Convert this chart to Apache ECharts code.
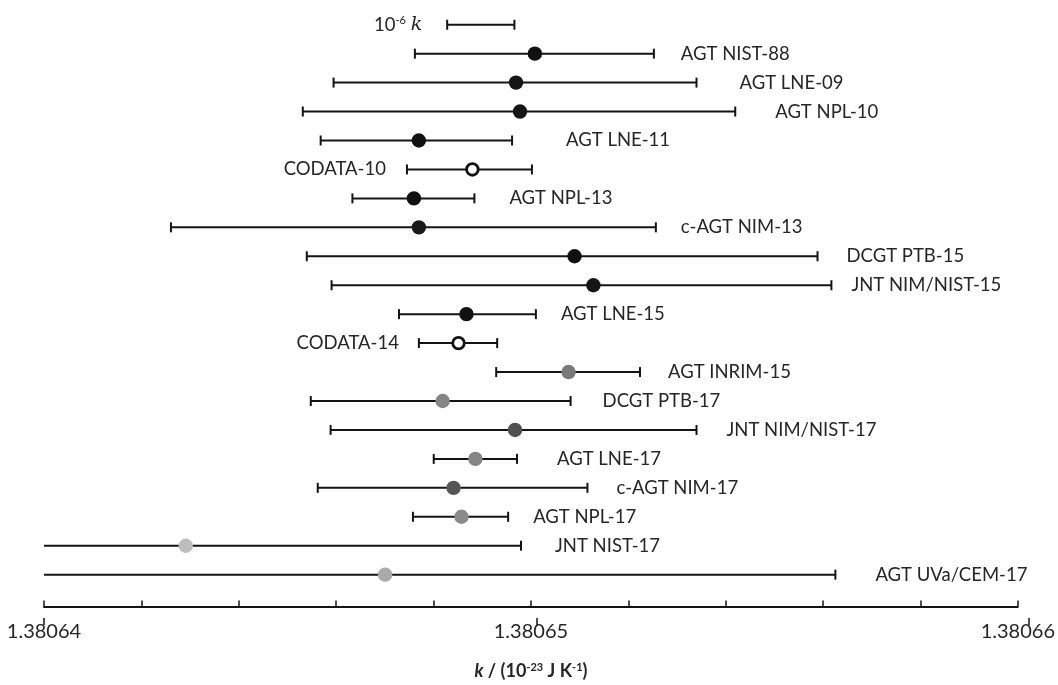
<!DOCTYPE html>
<html>
<head>
<meta charset="utf-8">
<script src="https://cdn.jsdelivr.net/npm/echarts@6/dist/echarts.min.js"></script>
<style>
html,body{margin:0;padding:0;background:#fff;}
#chart{width:1058px;height:685px;}
</style>
</head>
<body>
<div id="chart"></div>
<script>
// ---- data (k in units of 1e-23 J/K) ----
const labels = [
  '10{s|-6} {i|k}', 'AGT NIST-88', 'AGT LNE-09', 'AGT NPL-10', 'AGT LNE-11', 'CODATA-10',
  'AGT NPL-13', 'c-AGT NIM-13', 'DCGT PTB-15', 'JNT NIM/NIST-15', 'AGT LNE-15', 'CODATA-14',
  'AGT INRIM-15', 'DCGT PTB-17', 'JNT NIM/NIST-17', 'AGT LNE-17', 'c-AGT NIM-17', 'AGT NPL-17',
  'JNT NIST-17', 'AGT UVa/CEM-17'
];
const centers = [
  null, 1.380650081, 1.380649694, 1.380649776, 1.380647698, 1.380648798,
  1.380647597, 1.380647699, 1.380650896, 1.380651283, 1.380648676, 1.380648513,
  1.380650773, 1.380648187, 1.380649674, 1.380648859, 1.380648411, 1.380648574,
  1.380642912, 1.380647006
];
const lows = [
  1.380648280, 1.380647617, 1.380645947, 1.380645315, 1.380645682, 1.380647454,
  1.380646334, 1.380642607, 1.380645397, 1.380645906, 1.380647291, 1.380647699,
  1.380649287, 1.380645479, 1.380645886, 1.380648004, 1.380645622, 1.380647577,
  1.380636030, 1.380637760
];
const highs = [
  1.380649661, 1.380652525, 1.380653401, 1.380654196, 1.380649613, 1.380650021,
  1.380648839, 1.380652566, 1.380655886, 1.380656171, 1.380650102, 1.380649307,
  1.380652240, 1.380650815, 1.380653401, 1.380649715, 1.380651161, 1.380649532,
  1.380649796, 1.380656253
];
const xMin = 1.38064, xMax = 1.38066, xStep = 0.000002, xMajor = 0.00001;

// ---- layout / style (not data) ----
const labelSide = ['left','right','right','right','right','left','right','right','right','right',
                   'right','left','right','right','right','right','right','right','right','right'];
const labelGap = [25, 27, 43, 40, 54, 21, 35, 25, 29, 20, 25, 20, 28, 32, 30, 40, 29, 25, 34, 40];
const markerKind = ['none','fill','fill','fill','fill','open','fill','fill','fill','fill',
                    'fill','open','fill','fill','fill','fill','fill','fill','fill','fill'];
const markerColor = ['#000','#111','#151515','#151515','#111','#111','#111','#1a1a1a','#111','#151515',
                     '#111','#111','#7a7a7a','#858585','#505050','#858585','#555555','#8a8a8a','#bdbdbd','#aaaaaa'];

const FONT = 'Lato';
const TXT = '#262626';
const chart = echarts.init(document.getElementById('chart'), null, {renderer: 'canvas'});

function renderItem(params, api) {
  const i = params.dataIndex;
  const cs = params.coordSys;
  const pL = api.coord([lows[i], i]);
  const pH = api.coord([highs[i], i]);
  const y = pL[1];
  const left = cs.x, right = cs.x + cs.width;
  const xl = Math.max(pL[0], left), xh = Math.min(pH[0], right);
  const lineStyle = {stroke: '#141414', lineWidth: 2};
  const capH = 5;
  const children = [];
  children.push({type: 'line', shape: {x1: xl, y1: y, x2: xh, y2: y}, style: lineStyle});
  if (pL[0] >= left - 0.5) children.push({type: 'line', shape: {x1: pL[0], y1: y - capH, x2: pL[0], y2: y + capH}, style: lineStyle});
  if (pH[0] <= right + 0.5) children.push({type: 'line', shape: {x1: pH[0], y1: y - capH, x2: pH[0], y2: y + capH}, style: lineStyle});
  if (centers[i] != null) {
    const pc = api.coord([centers[i], i]);
    if (markerKind[i] === 'open') {
      children.push({type: 'circle', shape: {cx: pc[0], cy: y, r: 5.8}, style: {fill: '#fff', stroke: '#111', lineWidth: 2.8}});
    } else {
      children.push({type: 'circle', shape: {cx: pc[0], cy: y, r: 7.2}, style: {fill: markerColor[i]}});
    }
  }
  const tx = labelSide[i] === 'left' ? pL[0] - labelGap[i] : pH[0] + labelGap[i];
  children.push({
    type: 'text', x: tx, y: y,
    style: {
      text: labels[i], fill: TXT, fontFamily: FONT, fontSize: 18.5,
      align: labelSide[i] === 'left' ? 'right' : 'left', verticalAlign: 'middle',
      rich: {
        s: {fontSize: 11, fontFamily: FONT, fill: TXT, verticalAlign: 'top', padding: [0, 0, 8, 0]},
        i: {fontSize: 19, fontFamily: 'DejaVu Serif', fontStyle: 'italic', fill: TXT}
      }
    }
  });
  return {type: 'group', children};
}

const gridBox = {left: 44, right: 29, top: 10.25, bottom: 67};

const option = {
  animation: false,
  backgroundColor: '#fff',
  grid: [Object.assign({}, gridBox), Object.assign({}, gridBox)],
  xAxis: [{
    gridIndex: 0,
    type: 'value', min: xMin, max: xMax, interval: xStep,
    axisLine: {show: true, onZero: false, lineStyle: {color: '#141414', width: 2}},
    axisTick: {show: true, inside: true, length: 6, lineStyle: {color: '#141414', width: 1.5}},
    splitLine: {show: false},
    axisLabel: {
      margin: 15, color: TXT, fontFamily: FONT, fontSize: 20,
      showMinLabel: true, showMaxLabel: true,
      formatter: function (v) {
        const r = Math.round(v / xMajor);
        return Math.abs(v / xMajor - r) < 1e-4 ? (r * xMajor).toFixed(5) : '';
      }
    },
    name: '{i|k} / (10{s|-23} J K{s|-1})',
    nameLocation: 'middle', nameGap: 55,
    nameTextStyle: {
      color: TXT, fontFamily: FONT, fontSize: 18, fontWeight: 'bold',
      rich: {
        i: {fontSize: 18, fontFamily: FONT, fontStyle: 'italic', fontWeight: 'bold', color: TXT},
        s: {fontSize: 11, fontFamily: FONT, fontWeight: 'bold', color: TXT, verticalAlign: 'top', padding: [0, 0, 8, 0]}
      }
    }
  }, {
    gridIndex: 1,
    type: 'value', min: xMin, max: xMax, interval: xMajor,
    axisLine: {show: false, onZero: false},
    axisTick: {show: true, inside: false, length: 7, lineStyle: {color: '#141414', width: 1.5}},
    axisLabel: {show: false},
    splitLine: {show: false}
  }],
  yAxis: [{
    gridIndex: 0, type: 'value', inverse: true, min: -0.5, max: 20.1, show: false,
    splitLine: {show: false}
  }, {
    gridIndex: 1, type: 'value', inverse: true, min: -0.5, max: 20.1, show: false,
    splitLine: {show: false}
  }],
  series: [{
    type: 'custom',
    xAxisIndex: 0, yAxisIndex: 0,
    renderItem: renderItem,
    clip: false,
    data: labels.map((_, i) => [lows[i], i])
  }]
};
chart.setOption(option);
</script>
</body>
</html>
